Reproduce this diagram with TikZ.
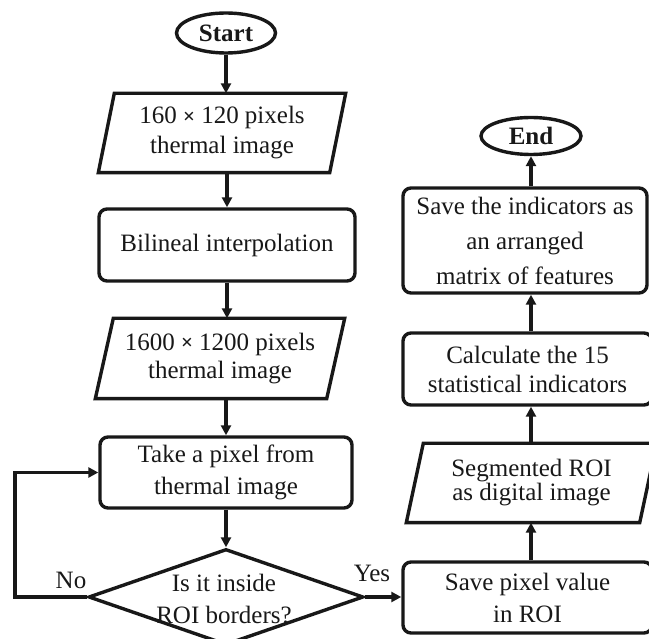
\documentclass[tikz,border=0pt]{standalone}
\usepackage{fontspec}
\setmainfont{Liberation Serif}
\usetikzlibrary{arrows.meta,shapes.geometric,calc}

\definecolor{ink}{RGB}{24,24,24}
\newcommand\lead[1]{\fontsize{25}{#1}\selectfont}
\newcommand\by{\raisebox{0.5pt}{\fontsize{21}{21}\selectfont\textbf{×}}}

\tikzset{
  base/.style={line width=3.4pt, draw=ink, text=ink, align=center,
               inner sep=0pt, font=\lead{31}},
  term/.style={base, ellipse, font=\lead{31}\bfseries},
  proc/.style={base, rounded corners=8pt},
  io/.style={base, draw=none},
  decision/.style={base, diamond},
  caption/.style={text=ink, inner sep=0pt, align=center, font=\lead{31}},
  flow/.style={line width=3.4pt, draw=ink, -{Triangle[length=10pt,width=10pt]}},
  slant/.style={line width=3.4pt, draw=ink, line join=miter}
}

% parallelogram frame around an input/output node, top edge pushed right by #2
\newcommand\slantframe[2]{%
  \draw[slant] ($(#1.north west)+(#2,0)$) -- ($(#1.north east)+(#2,0)$)
    -- ($(#1.south east)-(#2,0)$) -- ($(#1.south west)-(#2,0)$) -- cycle;}

\begin{document}
\begin{tikzpicture}[x=1pt,y=-1pt]
\useasboundingbox (0,0) rectangle (649,639);

% left column
\node[term, minimum width=99, minimum height=40] (start) at (226,33) {Start};
\node[io, minimum width=228, minimum height=76, font=\lead{30}] (p1) at (222,133)
  {160 \by{} 120 pixels\\thermal image};
\slantframe{p1}{8}
\node[proc, minimum width=256, minimum height=72] (bil) at (227,245)
  {Bilineal interpolation};
\node[io, minimum width=228, minimum height=77, font=\lead{28}] (p2) at (220,358.5)
  {1600 \by{} 1200 pixels\\thermal image};
\slantframe{p2}{9}
\node[proc, minimum width=252, minimum height=71, font=\lead{32}] (take) at (226,472.5)
  {Take a pixel from\\thermal image};
\node[decision, minimum width=275, minimum height=96] (dec) at (226,597) {};
\node[caption, font=\lead{32}] (dect) at (224,599) {Is it inside\\ROI borders?};

% right column
\node[proc, minimum width=249, minimum height=71, font=\lead{32}] (spv) at (527.5,597.5)
  {Save pixel value\\in ROI};
\node[io, minimum width=230, minimum height=76, font=\lead{24}] (seg) at (531.5,483)
  {Segmented ROI\\as digital image};
\slantframe{seg}{8.5}
\node[proc, minimum width=249, minimum height=72, font=\lead{29}] (calc) at (527.5,369)
  {Calculate the 15\\statistical indicators};
\node[proc, minimum width=244, minimum height=105, font=\lead{35}] (sav) at (525,240.5)
  {Save the indicators as\\an arranged\\matrix of features};
\node[term, minimum width=100, minimum height=37] (endn) at (531,136) {End};

% connectors
\draw[flow] (start.south) -- (start.south |- p1.north);
\draw[flow] (p1.south -| bil.north) -- (bil.north);
\draw[flow] (bil.south) -- (bil.south |- p2.north);
\draw[flow] (p2.south -| take.north) -- (take.north);
\draw[flow] (take.south) -- (dec.north);
\draw[flow] (dec.east) -- (dec.east -| spv.west);
\draw[flow] (dec.west) -- ++(-72,0) |- (take.west);
\draw[flow] (spv.north -| endn.south) -- (seg.south -| endn.south);
\draw[flow] (seg.north -| endn.south) -- (calc.south -| endn.south);
\draw[flow] (calc.north -| endn.south) -- (sav.south -| endn.south);
\draw[flow] (sav.north -| endn.south) -- (endn.south);

\node[caption] (yes) at (372,573) {Yes};
\node[caption] (no) at (71,580) {No};
\end{tikzpicture}
\end{document}
